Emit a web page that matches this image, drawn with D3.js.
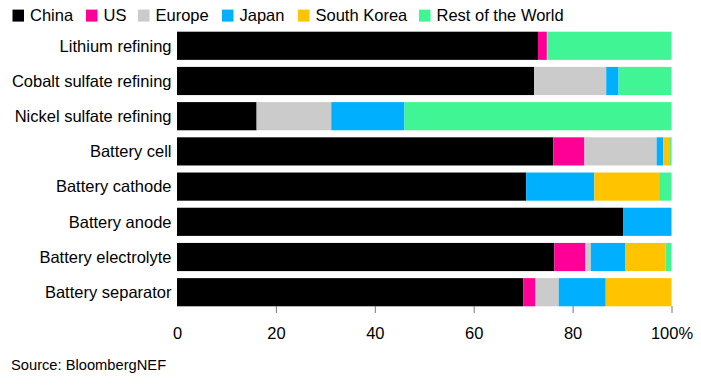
<!DOCTYPE html>
<meta charset="utf-8">
<script src="https://d3js.org/d3.v7.min.js"></script>
<style>
body { margin: 0; background: #fff; }
text { font-family: "Liberation Sans", Arial, sans-serif; }
</style>
<div id="chart"></div>
<script>
var categories = ["Lithium refining", "Cobalt sulfate refining", "Nickel sulfate refining", "Battery cell",
    "Battery cathode", "Battery anode", "Battery electrolyte", "Battery separator"];
var regions = ["China", "US", "Europe", "Japan", "South Korea", "Rest of the World"];
var colors = ["#000000", "#ff0097", "#cbcbcb", "#00b0ff", "#ffc300", "#40f594"];

// share of each step, per region (same order as categories)
var china = [73.0, 72.2, 16.1, 76.1, 70.6, 90.2, 76.3, 70.0];
var us = [1.8, 0, 0, 6.3, 0, 0, 6.3, 2.5];
var europe = [0.2, 14.6, 15.1, 14.6, 0, 0, 1.1, 4.7];
var japan = [0, 2.5, 14.8, 1.3, 13.8, 9.8, 6.9, 9.5];
var southKorea = [0, 0, 0, 1.4, 13.1, 0, 8.2, 13.3];
var restOfWorld = [25.0, 10.7, 54.0, 0.3, 2.5, 0, 1.2, 0];
var tickValues = [0, 20, 40, 60, 80, 100];

var series = [china, us, europe, japan, southKorea, restOfWorld];
var data = categories.map(function(c, i) {
    var row = { name: c };
    regions.forEach(function(r, j) { row[r] = series[j][i]; });
    return row;
});

var width = 701, height = 390;

var svg = d3.select("#chart").append("svg")
    .attr("width", width)
    .attr("height", height);

var x = d3.scaleLinear().domain([0, 100]).range([177, 671.5]);
var y = d3.scaleBand().domain(categories).range([31.7, 306.3]).paddingInner(0.2).paddingOuter(0);

var stack = d3.stack().keys(regions)(data);
var color = d3.scaleOrdinal().domain(regions).range(colors);

svg.append("g")
    .selectAll("g")
    .data(stack)
    .enter().append("g")
    .attr("fill", function(d) { return color(d.key); })
    .selectAll("rect")
    .data(function(d) { return d; })
    .enter().append("rect")
    .attr("x", function(d) { return x(d[0]); })
    .attr("y", function(d) { return y(d.data.name); })
    .attr("width", function(d) { return x(d[1]) - x(d[0]); })
    .attr("height", y.bandwidth());

// category labels
svg.append("g")
    .selectAll("text")
    .data(categories)
    .enter().append("text")
    .attr("x", 171.5)
    .attr("y", function(d) { return y(d) + y.bandwidth() / 2; })
    .attr("dy", "0.35em")
    .attr("text-anchor", "end")
    .attr("font-size", 16.5)
    .attr("fill", "#000")
    .text(function(d) { return d; });

// x axis, ticks only
var xAxis = svg.append("g")
    .attr("transform", "translate(0,306)")
    .call(d3.axisBottom(x).tickValues(tickValues).tickSize(7).tickPadding(14)
        .tickFormat(function(d) { return d === 100 ? "100%" : d; }));
xAxis.select(".domain").remove();
xAxis.selectAll(".tick line").attr("stroke", "#777")
    .attr("opacity", function(d) { return d === 0 ? 0 : 1; });
xAxis.selectAll("text").attr("font-size", 16.5).attr("fill", "#000")
    .attr("font-family", "Liberation Sans, Arial, sans-serif");

// legend
var legendX = [12.5, 86, 138, 222, 298, 419];
var legend = svg.append("g")
    .selectAll("g")
    .data(regions)
    .enter().append("g")
    .attr("transform", function(d, i) { return "translate(" + legendX[i] + ",0)"; });
legend.append("rect")
    .attr("y", 9.6).attr("width", 11.5).attr("height", 12)
    .attr("fill", function(d) { return color(d); });
legend.append("text")
    .attr("x", 17.5).attr("y", 15.6)
    .attr("dy", "0.35em")
    .attr("font-size", 16.5)
    .attr("fill", "#000")
    .text(function(d) { return d; });

svg.append("text")
    .attr("x", 11).attr("y", 365)
    .attr("dy", "0.35em")
    .attr("font-size", 14.7)
    .attr("fill", "#000")
    .text("Source: BloombergNEF");
</script>
